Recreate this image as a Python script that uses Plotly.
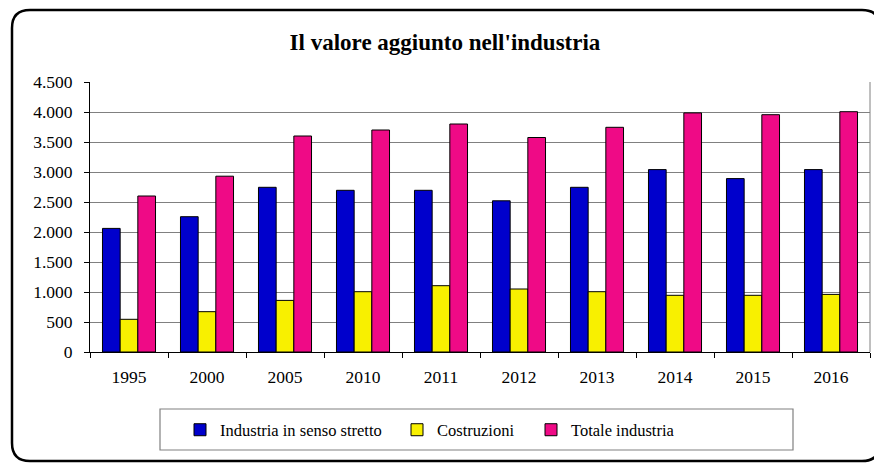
import plotly.graph_objects as go

years = ["1995", "2000", "2005", "2010", "2011", "2012", "2013", "2014", "2015", "2016"]
industria_stretto = [2060, 2255, 2745, 2695, 2695, 2520, 2745, 3040, 2890, 3040]
costruzioni = [545, 672, 860, 1005, 1105, 1050, 1005, 945, 945, 960]
totale_industria = [2600, 2930, 3600, 3700, 3800, 3575, 3745, 3985, 3955, 4005]
y_ticks = [0, 500, 1000, 1500, 2000, 2500, 3000, 3500, 4000, 4500]

OFF = 8  # page body margin
W, H = 882 - OFF, 463 - OFF
L, R, T, B = 90 - OFF, 12, 82 - OFF, 111
PW, PH = W - L - R, H - T - B


def px(x):  # page pixel -> paper
    return (x - OFF - L) / PW


def py(y):
    return (H - B - (y - OFF)) / PH


FONT = "Liberation Serif, Times New Roman, serif"

fig = go.Figure()
series = [
    ("Industria in senso stretto", industria_stretto, "#0000cc", "legend"),
    ("Costruzioni", costruzioni, "#f8f000", "legend2"),
    ("Totale industria", totale_industria, "#ef0a86", "legend3"),
]
for name, vals, col, lg in series:
    fig.add_trace(go.Bar(
        x=years, y=vals, name=name,
        marker=dict(color=col, line=dict(color="black", width=1)),
        legend=lg,
    ))

# outer rounded border
x1, x2, y1, y2, r = 12, 880, 10, 461, 18
path = (
    f"M {px(x1 + r)},{py(y1)} L {px(x2 - r)},{py(y1)} "
    f"Q {px(x2)},{py(y1)} {px(x2)},{py(y1 + r)} "
    f"L {px(x2)},{py(y2 - r)} Q {px(x2)},{py(y2)} {px(x2 - r)},{py(y2)} "
    f"L {px(x1 + r)},{py(y2)} Q {px(x1)},{py(y2)} {px(x1)},{py(y2 - r)} "
    f"L {px(x1)},{py(y1 + r)} Q {px(x1)},{py(y1)} {px(x1 + r)},{py(y1)} Z"
)
shapes = [
    dict(type="path", path=path, xref="paper", yref="paper",
         line=dict(color="black", width=2.5), layer="below"),
    dict(type="rect", xref="paper", yref="paper",
         x0=px(160), x1=px(793), y0=py(409), y1=py(450),
         line=dict(color="#808080", width=1.2)),
    dict(type="line", xref="paper", yref="paper",
         x0=1, x1=1, y0=0, y1=1, line=dict(color="#808080", width=1)),
]

leg_common = dict(orientation="h", bgcolor="rgba(0,0,0,0)", borderwidth=0,
                  font=dict(family=FONT, size=16.5, color="black"),
                  xanchor="left", yanchor="middle", y=py(430),
                  xref="paper", yref="paper")

fig.update_layout(
    width=W, height=H,
    margin=dict(l=L, r=R, t=T, b=B),
    paper_bgcolor="white", plot_bgcolor="white",
    separators=",.",
    barmode="group", bargap=0.32, bargroupgap=0,
    font=dict(family=FONT, size=17.5, color="black"),
    title=dict(text="<b>Il valore aggiunto nell'industria</b>",
               font=dict(family=FONT, size=23, color="black"),
               x=(445 - OFF) / W, xanchor="center", xref="container",
               y=1 - (42 - OFF) / H, yanchor="middle", yref="container"),
    xaxis=dict(type="category", showline=True, linecolor="black", linewidth=1,
               ticks="outside", ticklen=5, tickcolor="black", tickson="boundaries",
               showgrid=False, ticklabelstandoff=9,
               tickfont=dict(family=FONT, size=17.5, color="black")),
    yaxis=dict(range=[0, 4500], tickvals=y_ticks, tickformat=",d",
               showline=True, linecolor="black", linewidth=1,
               ticks="outside", ticklen=5, tickcolor="black",
               showgrid=True, gridcolor="#808080", gridwidth=1, zeroline=False,
               ticklabelstandoff=8,
               tickfont=dict(family=FONT, size=17.5, color="black")),
    legend=dict(**leg_common, x=px(180)),
    legend2=dict(**leg_common, x=px(397)),
    legend3=dict(**leg_common, x=px(531)),
    shapes=shapes,
    showlegend=True,
)

fig.write_html("out.html")
